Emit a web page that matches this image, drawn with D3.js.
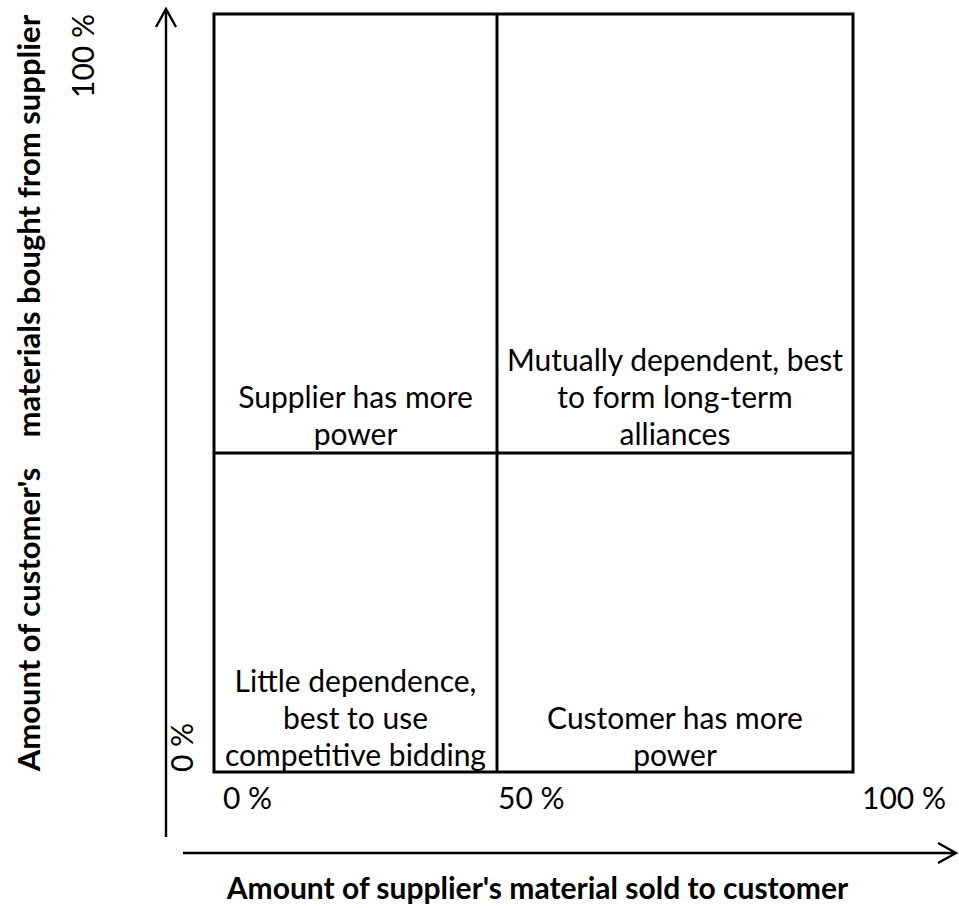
<!DOCTYPE html>
<html>
<head>
<meta charset="utf-8">
<script src="https://cdn.jsdelivr.net/npm/d3@7"></script>
<style>
  body { margin: 0; background: #fff; }
  text { font-family: Lato, "Open Sans", sans-serif; fill: #000; }
</style>
</head>
<body>
<div id="chart"></div>
<script>
// Chart content.
const xTicks      = [0, 50, 100];
const xTickLabels = ["0 %", "50 %", "100 %"];
const yTicks      = [0, 100];
const yTickLabels = ["0 %", "100 %"];

const xTitle = "Amount of supplier's material sold to customer";
const yTitle = "Amount of customer's\u00a0\u00a0\u00a0 materials bought from supplier";

// Quadrants: column (0 = low, 1 = high supplier share), row (0 = low, 1 = high customer share).
const quadCols  = [0, 1, 0, 1];
const quadRows  = [1, 1, 0, 0];
const quadLines = [
  ["Supplier has more", "power"],
  ["Mutually dependent, best", "to form long-term", "alliances"],
  ["Little dependence,", "best to use", "competitive bidding"],
  ["Customer has more", "power"]
];

const W = 959, H = 908;

const svg = d3.select("#chart")
  .append("svg")
    .attr("width", W)
    .attr("height", H);

// The divider is not at the midpoint, so both scales are piecewise.
const x = d3.scaleLinear().domain([0, 50, 100]).range([214, 497, 853]);
const y = d3.scaleLinear().domain([0, 50, 100]).range([772, 453, 14]);

const lineW = 3;

// Grid box and dividers
svg.append("rect")
  .attr("x", x(0)).attr("y", y(100))
  .attr("width", x(100) - x(0)).attr("height", y(0) - y(100))
  .attr("fill", "none").attr("stroke", "#000").attr("stroke-width", lineW);

svg.append("line")
  .attr("x1", x(50)).attr("x2", x(50))
  .attr("y1", y(0)).attr("y2", y(100))
  .attr("stroke", "#000").attr("stroke-width", lineW);

svg.append("line")
  .attr("x1", x(0)).attr("x2", x(100))
  .attr("y1", y(50)).attr("y2", y(50))
  .attr("stroke", "#000").attr("stroke-width", lineW);

// Axis arrows
const vx = x(0) - 48;
const hy = y(0) + 81;
const head = 10;

svg.append("path")
  .attr("d", `M${vx},${y(0) + 65} L${vx},${y(100) - 4}`
           + ` M${vx - head},${y(100) + 13} L${vx},${y(100) - 5} L${vx + head},${y(100) + 13}`)
  .attr("fill", "none").attr("stroke", "#000").attr("stroke-width", 2.4);

svg.append("path")
  .attr("d", `M${vx + 17},${hy} L${W - 3},${hy}`
           + ` M${W - 21},${hy - head} L${W - 3},${hy} L${W - 21},${hy + head}`)
  .attr("fill", "none").attr("stroke", "#000").attr("stroke-width", 2.4);

// X tick labels
svg.selectAll("text.xtick")
  .data(xTicks)
  .enter().append("text")
    .attr("class", "xtick")
    .attr("x", (d, i) => x(d) + [9, 1, 9][i])
    .attr("y", y(0) + 37)
    .attr("font-size", 30)
    .text((d, i) => xTickLabels[i]);

// Y tick labels (rotated)
svg.append("text")
  .attr("transform", `translate(${x(0) - 21},${y(0)}) rotate(-90)`)
  .attr("text-anchor", "start")
  .attr("font-size", 30)
  .text(yTickLabels[0]);

svg.append("text")
  .attr("transform", `translate(${x(0) - 120},${y(100)}) rotate(-90)`)
  .attr("text-anchor", "end")
  .attr("font-size", 30)
  .text(yTickLabels[1]);

// Quadrant labels
const lineH = 37;
quadLines.forEach((lines, i) => {
  const c = quadCols[i], r = quadRows[i];
  const cx = (x(c * 50) + x(c * 50 + 50)) / 2;
  const base = r === 1 ? y(50) - 8 : y(0) - 6;
  const t = svg.append("text")
    .attr("text-anchor", "middle")
    .attr("font-size", 30);
  lines.forEach((s, j) => {
    t.append("tspan")
      .attr("x", cx)
      .attr("y", base - (lines.length - 1 - j) * lineH)
      .text(s);
  });
});

// Axis titles
svg.append("text")
  .attr("x", (x(0) + x(100)) / 2 + 4)
  .attr("y", hy + 46)
  .attr("text-anchor", "middle")
  .attr("font-size", 30)
  .attr("font-weight", "bold")
  .text(xTitle);

svg.append("text")
  .attr("transform", `translate(40,${(y(0) + y(100)) / 2}) rotate(-90)`)
  .attr("text-anchor", "middle")
  .attr("font-size", 31)
  .attr("font-weight", "bold")
  .text(yTitle);
</script>
</body>
</html>
